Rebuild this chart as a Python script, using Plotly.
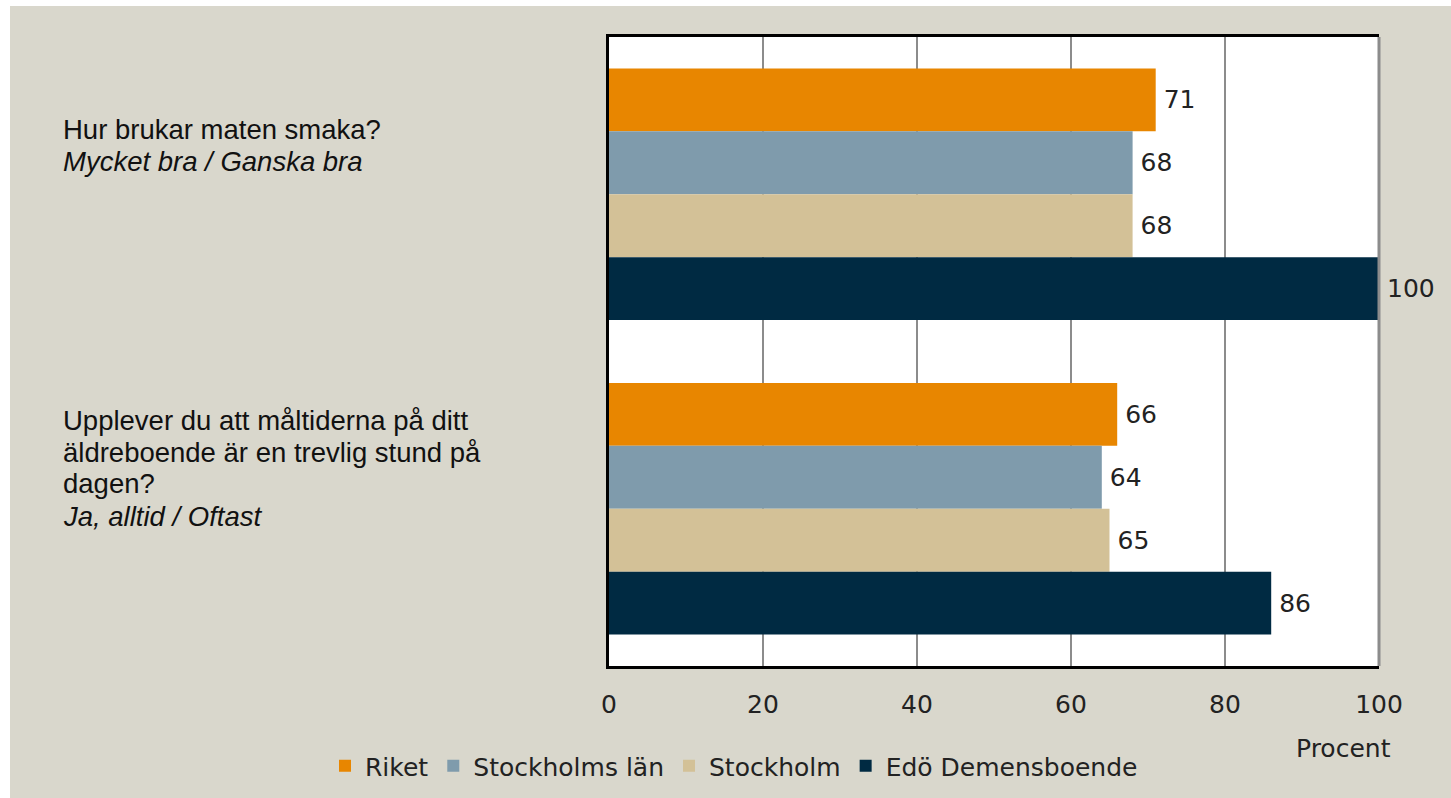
import plotly.graph_objects as go

# ---- data ----
categories = ["q1", "q2"]
series_names = ["Riket", "Stockholms län", "Stockholm", "Edö Demensboende"]
riket = [71, 66]
stockholms_lan = [68, 64]
stockholm = [68, 65]
edo = [100, 86]
series_values = [riket, stockholms_lan, stockholm, edo]
tick_vals = [0, 20, 40, 60, 80, 100]
tick_text = ["0", "20", "40", "60", "80", "100"]

question_lines = [
    ["Hur brukar maten smaka?", "<i>Mycket bra / Ganska bra</i>"],
    ["Upplever du att måltiderna på ditt", "äldreboende är en trevlig stund på",
     "dagen?", "<i>Ja, alltid / Oftast</i>"],
]
question_shifts = [[65, 33], [88, 56, 25, -8]]

colors = ["#E88600", "#7F9BAC", "#D3C197", "#002A42"]

W, H = 1451, 798
L, R, T, B = 609, 72, 37, 132
pw, ph = W - L - R, H - T - B

fig = go.Figure()
for name, vals, col in zip(series_names, series_values, colors):
    fig.add_trace(go.Bar(
        y=categories, x=vals, name=name, orientation="h",
        marker=dict(color=col, line=dict(width=0)),
        text=["\u2009" + str(v) for v in vals], textposition="outside",
        textfont=dict(family="DejaVu Sans", size=25, color="#222222"),
        cliponaxis=False,
    ))

annotations = []
for cat, lines, shifts in zip(categories, question_lines, question_shifts):
    for line, sh in zip(lines, shifts):
        annotations.append(dict(
            x=(61 - L) / pw, xref="paper", y=cat, yref="y", yshift=sh,
            xanchor="left", yanchor="middle", text=line, showarrow=False,
            font=dict(family="Liberation Sans", size=27.5, color="#111111"), align="left",
        ))
annotations.append(dict(
    x=(1343 - L) / pw, xref="paper", y=(666 - 748) / ph, yref="paper",
    xanchor="center", yanchor="middle", text="Procent", showarrow=False,
    font=dict(family="DejaVu Sans", size=25, color="#222222"),
))

def px(xp):
    return (xp - L) / pw

def py(yp):
    return (666 - yp) / ph

shapes = [
    # white outer border strips
    dict(type="rect", xref="paper", yref="paper", x0=px(-5), x1=px(10), y0=py(H + 5), y1=py(-5),
         fillcolor="white", line=dict(width=0), layer="below"),
    dict(type="rect", xref="paper", yref="paper", x0=px(-5), x1=px(W + 5), y0=py(6), y1=py(-5),
         fillcolor="white", line=dict(width=0), layer="below"),
    # right frame line
    dict(type="line", xref="paper", yref="paper", x0=1, x1=1, y0=0, y1=1,
         line=dict(color="#8C8C8C", width=3)),
]

fig.update_layout(
    width=W, height=H,
    margin=dict(l=L, r=R, t=T, b=B, pad=0, autoexpand=False),
    paper_bgcolor="#D9D7CC", plot_bgcolor="white",
    barmode="group", bargap=0.2, bargroupgap=0,
    showlegend=True,
    legend=dict(orientation="h", xref="paper", yref="paper",
                x=px(339 - 14), xanchor="left", y=py(766), yanchor="middle",
                font=dict(family="DejaVu Sans", size=25, color="#222222"),
                bgcolor="rgba(0,0,0,0)", traceorder="normal", itemwidth=30,
                tracegroupgap=0),
    annotations=annotations,
    shapes=shapes,
    xaxis=dict(range=[0, 100], tickvals=tick_vals, ticktext=tick_text,
               showgrid=True, gridcolor="#8C8C8C", gridwidth=2,
               showline=True, linecolor="black", linewidth=3, mirror=True,
               zeroline=False, ticks="", ticklabelstandoff=14,
               tickfont=dict(family="DejaVu Sans", size=25, color="#222222")),
    yaxis=dict(autorange="reversed", showticklabels=False, showgrid=False,
               showline=True, linecolor="black", linewidth=3, mirror=False,
               zeroline=False, ticks=""),
)

fig.write_html("out.html", config={"displayModeBar": False},
               post_script="document.body.style.margin='0';")
